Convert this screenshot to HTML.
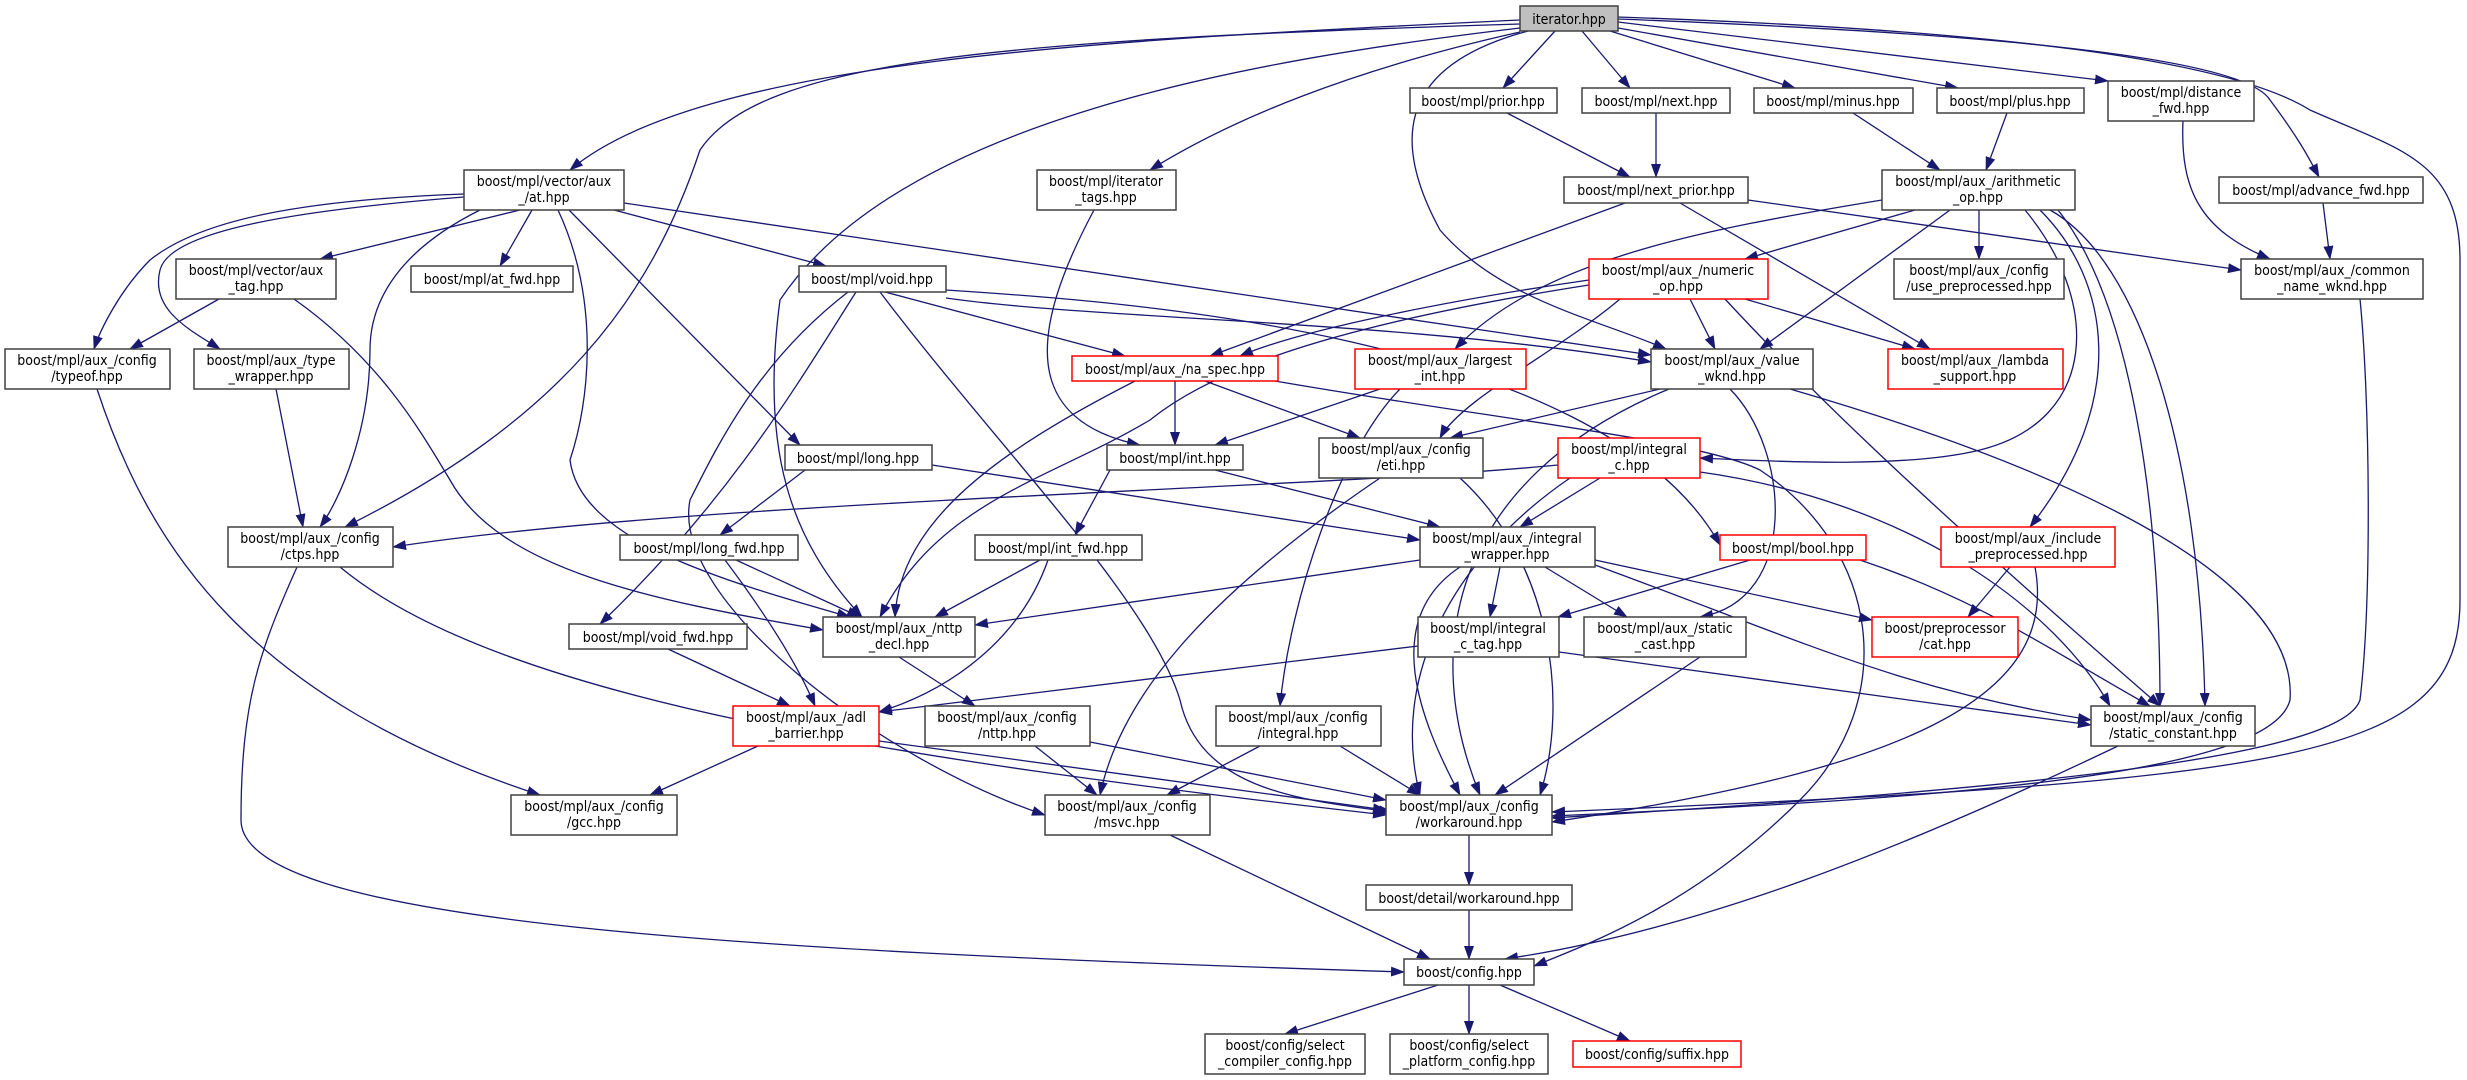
<!DOCTYPE html>
<html><head><meta charset="utf-8"><style>
html,body{margin:0;padding:0;background:#fff;}
svg{display:block}
text{font-family:"DejaVu Sans Condensed","DejaVu Sans","Liberation Sans",sans-serif;font-stretch:condensed;font-size:14px;fill:#000;text-anchor:middle}
.n{fill:#fff;stroke:#404040;stroke-width:1.5}
.r{fill:#fff;stroke:#ff0000;stroke-width:1.5}
.g{fill:#bfbfbf;stroke:#404040;stroke-width:1.5}
.e path{fill:none;stroke:#191970;stroke-width:1.3;marker-end:url(#a)}
</style></head><body>
<svg width="2467" height="1080" viewBox="0 0 2467 1080" xmlns="http://www.w3.org/2000/svg">
<defs><marker id="a" markerUnits="userSpaceOnUse" markerWidth="14" markerHeight="10" refX="13" refY="5" orient="auto"><path d="M0,0 L14,5 L0,10 z" fill="#191970"/></marker></defs>
<g class="e">
<path d="M1520,20 C1100,40 700,60 570,170"/>
<path d="M1520,24 C1000,40 760,60 700,150 C650,300 560,420 345,527"/>
<path d="M1520,28 C1250,60 900,120 780,300 C760,450 790,540 862,617"/>
<path d="M1520,32 C1350,70 1230,120 1150,170"/>
<path d="M1528,31 C1420,60 1380,120 1440,230 C1500,300 1600,320 1666,349"/>
<path d="M1555,31 L1503,88"/>
<path d="M1582,31 L1630,88"/>
<path d="M1610,31 L1795,88"/>
<path d="M1618,28 L1958,88"/>
<path d="M1618,22 L2108,81"/>
<path d="M1618,19 C1900,30 2240,50 2270,100 C2300,140 2310,160 2319,177"/>
<path d="M1618,17 C2000,30 2230,60 2310,110 C2400,150 2460,160 2460,260 L2460,600 C2460,760 2300,780 1552,812"/>
<path d="M520,210 L320,259"/>
<path d="M532,210 L500,266"/>
<path d="M614,210 L826,266"/>
<path d="M464,194 C300,200 200,220 150,260 C120,290 100,330 94,349"/>
<path d="M464,197 C300,210 170,230 160,270 C150,310 190,330 220,349"/>
<path d="M480,210 C400,250 370,300 370,350 C370,430 340,500 320,527"/>
<path d="M558,210 C600,300 590,400 570,460 C580,540 720,580 850,617"/>
<path d="M569,210 L800,445"/>
<path d="M624,203 L1651,355"/>
<path d="M219,299 L130,349"/>
<path d="M294,299 C380,360 420,430 450,480 C500,570 650,600 823,630"/>
<path d="M276,389 L303,527"/>
<path d="M97,389 C150,550 250,700 540,795"/>
<path d="M340,567 C500,700 900,760 1386,815"/>
<path d="M297,567 C260,650 241,700 241,820 C241,920 700,950 1404,972"/>
<path d="M885,292 L1125,356"/>
<path d="M946,298 C1100,320 1400,320 1651,362"/>
<path d="M856,292 C800,380 730,500 600,624"/>
<path d="M848,292 C760,360 720,440 690,500 C670,600 880,760 1045,815"/>
<path d="M880,292 C1000,450 1150,600 1180,700 C1200,790 1300,800 1392,812"/>
<path d="M946,290 C1100,300 1600,330 1720,545"/>
<path d="M1094,210 C1030,330 1020,420 1140,445"/>
<path d="M1507,113 L1630,177"/>
<path d="M1656,113 L1656,177"/>
<path d="M1853,113 L1940,170"/>
<path d="M2007,113 L1986,170"/>
<path d="M2183,121 C2180,190 2200,230 2270,259"/>
<path d="M2323,203 L2330,259"/>
<path d="M1625,203 L1210,356"/>
<path d="M1748,200 L2241,270"/>
<path d="M1680,203 L1930,349"/>
<path d="M1915,210 L1745,259"/>
<path d="M1979,210 L1979,259"/>
<path d="M1950,210 L1760,349"/>
<path d="M1882,200 C1700,230 1540,260 1455,349"/>
<path d="M2025,210 C2100,300 2100,420 1980,450 C1900,470 1750,460 1700,458"/>
<path d="M2040,210 C2110,280 2130,400 2030,527"/>
<path d="M2050,210 C2140,260 2200,450 2205,706"/>
<path d="M2058,210 C2130,300 2160,500 2160,706"/>
<path d="M1589,280 C1450,300 1300,330 1240,356"/>
<path d="M1690,299 L1715,349"/>
<path d="M1745,299 L1915,349"/>
<path d="M1620,299 C1560,350 1460,400 1440,438"/>
<path d="M1589,285 C1300,330 1200,380 1150,420 C1050,480 940,500 880,617"/>
<path d="M1725,299 C1800,380 1900,480 2160,706"/>
<path d="M1175,381 L1175,445"/>
<path d="M1205,381 L1360,438"/>
<path d="M1135,381 C1000,450 900,520 895,617"/>
<path d="M1275,381 C1500,420 1700,440 1760,470 C1880,550 1900,700 1800,800 C1700,900 1600,940 1534,966"/>
<path d="M1380,389 L1215,445"/>
<path d="M1400,389 C1340,450 1290,600 1280,706"/>
<path d="M1660,389 L1450,438"/>
<path d="M1730,389 C1790,450 1800,600 1700,617"/>
<path d="M1669,389 C1450,480 1420,650 1480,795"/>
<path d="M1790,389 C2000,450 2300,560 2290,700 C2270,780 1900,800 1552,816"/>
<path d="M1110,470 L1075,535"/>
<path d="M1215,470 L1440,527"/>
<path d="M805,470 L720,535"/>
<path d="M932,465 L1420,540"/>
<path d="M1380,478 C1200,600 1120,700 1100,795"/>
<path d="M1460,478 C1550,560 1570,700 1540,795"/>
<path d="M1558,465 C1300,490 700,500 393,547"/>
<path d="M1600,478 L1520,527"/>
<path d="M1700,472 C1900,500 2050,600 2110,706"/>
<path d="M1570,478 C1450,560 1390,680 1420,795"/>
<path d="M736,560 L860,617"/>
<path d="M725,560 C770,620 800,670 815,706"/>
<path d="M1040,560 L935,617"/>
<path d="M1048,560 C1020,640 950,690 879,712"/>
<path d="M1750,560 L1558,617"/>
<path d="M1860,560 C1980,600 2050,650 2150,706"/>
<path d="M2010,567 L1968,617"/>
<path d="M2035,567 C2060,700 1900,770 1552,822"/>
<path d="M1420,560 L975,625"/>
<path d="M1500,567 L1490,617"/>
<path d="M1545,567 L1627,617"/>
<path d="M1595,560 L1872,620"/>
<path d="M1595,565 C1800,640 1900,690 2091,720"/>
<path d="M1460,567 C1380,620 1420,720 1460,795"/>
<path d="M1418,646 L879,712"/>
<path d="M1559,652 L2091,725"/>
<path d="M1700,657 L1495,795"/>
<path d="M899,657 L975,706"/>
<path d="M668,649 L790,706"/>
<path d="M758,746 L650,795"/>
<path d="M879,741 L1386,810"/>
<path d="M1035,746 L1097,795"/>
<path d="M1090,742 L1386,800"/>
<path d="M1260,746 L1167,795"/>
<path d="M1340,746 L1420,795"/>
<path d="M2118,746 C1900,850 1700,930 1505,959"/>
<path d="M1170,835 L1430,959"/>
<path d="M1469,835 L1469,885"/>
<path d="M1469,910 L1469,959"/>
<path d="M1438,985 L1285,1034"/>
<path d="M1469,985 L1469,1034"/>
<path d="M1500,985 L1630,1041"/>
<path d="M2360,299 C2370,400 2372,600 2360,700 C2340,760 2000,790 1552,818"/>
</g>
<g>
<rect class="g" x="1520" y="6" width="98" height="25"/><text x="1569" y="24">iterator.hpp</text>
<rect class="n" x="1410" y="88" width="147" height="25"/><text x="1483" y="106">boost/mpl/prior.hpp</text>
<rect class="n" x="1582" y="88" width="148" height="25"/><text x="1656" y="106">boost/mpl/next.hpp</text>
<rect class="n" x="1754" y="88" width="159" height="25"/><text x="1833" y="106">boost/mpl/minus.hpp</text>
<rect class="n" x="1937" y="88" width="147" height="25"/><text x="2010" y="106">boost/mpl/plus.hpp</text>
<rect class="n" x="2108" y="81" width="146" height="40"/><text x="2181" y="97">boost/mpl/distance</text><text x="2181" y="113">_fwd.hpp</text>
<rect class="n" x="464" y="170" width="160" height="40"/><text x="544" y="186">boost/mpl/vector/aux</text><text x="544" y="202">_/at.hpp</text>
<rect class="n" x="1037" y="170" width="139" height="40"/><text x="1106" y="186">boost/mpl/iterator</text><text x="1106" y="202">_tags.hpp</text>
<rect class="n" x="1564" y="177" width="184" height="26"/><text x="1656" y="195">boost/mpl/next_prior.hpp</text>
<rect class="n" x="1882" y="170" width="193" height="40"/><text x="1978" y="186">boost/mpl/aux_/arithmetic</text><text x="1978" y="202">_op.hpp</text>
<rect class="n" x="2219" y="177" width="204" height="26"/><text x="2321" y="195">boost/mpl/advance_fwd.hpp</text>
<rect class="n" x="176" y="259" width="160" height="40"/><text x="256" y="275">boost/mpl/vector/aux</text><text x="256" y="291">_tag.hpp</text>
<rect class="n" x="411" y="266" width="162" height="26"/><text x="492" y="284">boost/mpl/at_fwd.hpp</text>
<rect class="n" x="799" y="266" width="147" height="26"/><text x="872" y="284">boost/mpl/void.hpp</text>
<rect class="r" x="1589" y="259" width="179" height="40"/><text x="1678" y="275">boost/mpl/aux_/numeric</text><text x="1678" y="291">_op.hpp</text>
<rect class="n" x="1894" y="259" width="170" height="40"/><text x="1979" y="275">boost/mpl/aux_/config</text><text x="1979" y="291">/use_preprocessed.hpp</text>
<rect class="n" x="2241" y="259" width="182" height="40"/><text x="2332" y="275">boost/mpl/aux_/common</text><text x="2332" y="291">_name_wknd.hpp</text>
<rect class="n" x="5" y="349" width="165" height="40"/><text x="87" y="365">boost/mpl/aux_/config</text><text x="87" y="381">/typeof.hpp</text>
<rect class="n" x="194" y="349" width="155" height="40"/><text x="271" y="365">boost/mpl/aux_/type</text><text x="271" y="381">_wrapper.hpp</text>
<rect class="r" x="1072" y="356" width="206" height="25"/><text x="1175" y="374">boost/mpl/aux_/na_spec.hpp</text>
<rect class="r" x="1355" y="349" width="171" height="40"/><text x="1440" y="365">boost/mpl/aux_/largest</text><text x="1440" y="381">_int.hpp</text>
<rect class="n" x="1651" y="349" width="162" height="40"/><text x="1732" y="365">boost/mpl/aux_/value</text><text x="1732" y="381">_wknd.hpp</text>
<rect class="r" x="1888" y="349" width="175" height="40"/><text x="1975" y="365">boost/mpl/aux_/lambda</text><text x="1975" y="381">_support.hpp</text>
<rect class="n" x="785" y="445" width="147" height="25"/><text x="858" y="463">boost/mpl/long.hpp</text>
<rect class="n" x="1107" y="445" width="136" height="25"/><text x="1175" y="463">boost/mpl/int.hpp</text>
<rect class="n" x="1319" y="438" width="164" height="40"/><text x="1401" y="454">boost/mpl/aux_/config</text><text x="1401" y="470">/eti.hpp</text>
<rect class="r" x="1558" y="438" width="142" height="40"/><text x="1629" y="454">boost/mpl/integral</text><text x="1629" y="470">_c.hpp</text>
<rect class="n" x="228" y="527" width="165" height="40"/><text x="310" y="543">boost/mpl/aux_/config</text><text x="310" y="559">/ctps.hpp</text>
<rect class="n" x="620" y="535" width="178" height="25"/><text x="709" y="553">boost/mpl/long_fwd.hpp</text>
<rect class="n" x="975" y="535" width="167" height="25"/><text x="1058" y="553">boost/mpl/int_fwd.hpp</text>
<rect class="n" x="1420" y="527" width="175" height="40"/><text x="1507" y="543">boost/mpl/aux_/integral</text><text x="1507" y="559">_wrapper.hpp</text>
<rect class="r" x="1720" y="535" width="146" height="25"/><text x="1793" y="553">boost/mpl/bool.hpp</text>
<rect class="r" x="1941" y="527" width="174" height="40"/><text x="2028" y="543">boost/mpl/aux_/include</text><text x="2028" y="559">_preprocessed.hpp</text>
<rect class="n" x="823" y="617" width="152" height="40"/><text x="899" y="633">boost/mpl/aux_/nttp</text><text x="899" y="649">_decl.hpp</text>
<rect class="n" x="1418" y="617" width="141" height="40"/><text x="1488" y="633">boost/mpl/integral</text><text x="1488" y="649">_c_tag.hpp</text>
<rect class="n" x="1584" y="617" width="162" height="40"/><text x="1665" y="633">boost/mpl/aux_/static</text><text x="1665" y="649">_cast.hpp</text>
<rect class="r" x="1872" y="617" width="146" height="40"/><text x="1945" y="633">boost/preprocessor</text><text x="1945" y="649">/cat.hpp</text>
<rect class="n" x="569" y="624" width="178" height="25"/><text x="658" y="642">boost/mpl/void_fwd.hpp</text>
<rect class="r" x="733" y="706" width="146" height="40"/><text x="806" y="722">boost/mpl/aux_/adl</text><text x="806" y="738">_barrier.hpp</text>
<rect class="n" x="925" y="706" width="165" height="40"/><text x="1007" y="722">boost/mpl/aux_/config</text><text x="1007" y="738">/nttp.hpp</text>
<rect class="n" x="1216" y="706" width="165" height="40"/><text x="1298" y="722">boost/mpl/aux_/config</text><text x="1298" y="738">/integral.hpp</text>
<rect class="n" x="2091" y="706" width="164" height="40"/><text x="2173" y="722">boost/mpl/aux_/config</text><text x="2173" y="738">/static_constant.hpp</text>
<rect class="n" x="511" y="795" width="166" height="40"/><text x="594" y="811">boost/mpl/aux_/config</text><text x="594" y="827">/gcc.hpp</text>
<rect class="n" x="1045" y="795" width="165" height="40"/><text x="1127" y="811">boost/mpl/aux_/config</text><text x="1127" y="827">/msvc.hpp</text>
<rect class="n" x="1386" y="795" width="166" height="40"/><text x="1469" y="811">boost/mpl/aux_/config</text><text x="1469" y="827">/workaround.hpp</text>
<rect class="n" x="1366" y="885" width="206" height="25"/><text x="1469" y="903">boost/detail/workaround.hpp</text>
<rect class="n" x="1404" y="959" width="130" height="26"/><text x="1469" y="977">boost/config.hpp</text>
<rect class="n" x="1205" y="1034" width="160" height="40"/><text x="1285" y="1050">boost/config/select</text><text x="1285" y="1066">_compiler_config.hpp</text>
<rect class="n" x="1390" y="1034" width="158" height="40"/><text x="1469" y="1050">boost/config/select</text><text x="1469" y="1066">_platform_config.hpp</text>
<rect class="r" x="1573" y="1041" width="168" height="26"/><text x="1657" y="1059">boost/config/suffix.hpp</text>
</g>
</svg>
</body></html>
